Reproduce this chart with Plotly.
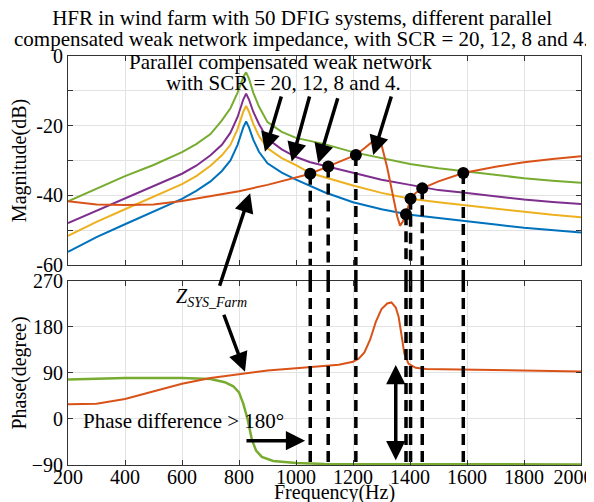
import plotly.graph_objects as go
from plotly.subplots import make_subplots

# magnitude of the four weak network impedances (SCR = 20, 12, 8, 4)
freq_net = [200, 300, 400, 500, 600, 650, 700, 740, 770, 795, 815, 825, 835, 850, 870, 900, 950, 1000,
            1050, 1100, 1200, 1300, 1400, 1500, 1600, 1700, 1800, 1900, 2000]
mag_green = [-41.7, -38, -34.5, -31.3, -27.6, -25.3, -22.4, -18.5, -15, -10.5, -6, -4.7, -6.5, -10.5, -14.5, -19,
             -21.8, -23.5, -24.5, -25.3, -27.6, -29.3, -31, -32.2, -33.2, -34.3, -35.1, -35.8, -36.4]
mag_purple = [-48, -44.5, -41, -37.5, -33.8, -31.5, -28.5, -25.5, -22, -17.5, -12.5, -10.8, -12.5, -16, -19.5, -23.8,
              -26.8, -29, -30.5, -31.5, -33.4, -35.5, -37, -38.5, -39.3, -40.3, -41.2, -41.9, -42.5]
mag_yellow = [-51.6, -47.6, -44, -40.3, -36.8, -34.5, -31.5, -28.5, -25.5, -21, -16, -14.3, -16, -19.5, -23, -26.5,
              -29.3, -31.3, -33.6, -34.8, -37.2, -39.3, -41, -42, -42.9, -43.9, -44.8, -45.6, -46.3]
mag_blue = [-56.2, -52, -48.3, -44.7, -41, -38.7, -36, -33, -30, -25.5, -20.5, -18.8, -20.5, -24, -27.5, -30.8,
            -33.5, -35.5, -37.4, -39.1, -42, -44, -45.6, -46.6, -47.4, -48.4, -49.3, -50, -50.7]

# wind farm impedance Z_SYS_Farm
freq_farm = [200, 300, 400, 500, 600, 700, 800, 900, 1000, 1050, 1113, 1150, 1210, 1240, 1265, 1285, 1300, 1320,
             1340, 1355, 1365, 1375, 1386, 1402, 1420, 1443, 1500, 1587, 1700, 1800, 1900, 2000]
mag_farm = [-41.7, -42.6, -42.8, -42.6, -41.6, -40.3, -38.8, -37, -35, -33.8, -31.7, -30.4, -28.4, -26.5, -24.8,
            -24, -25.5, -32, -40, -46, -48.7, -47.5, -45.4, -41, -39.3, -38, -36, -33.6, -31.8, -30.5, -29.6, -28.8]

freq_ph_farm = [200, 300, 400, 500, 600, 700, 800, 900, 1000, 1100, 1150, 1200, 1220, 1240, 1260, 1280, 1300, 1320,
                1335, 1350, 1360, 1370, 1380, 1395, 1420, 1457, 1600, 1800, 2000]
phase_farm = [29, 30, 39, 54, 69, 80, 88, 95, 99, 103, 106, 112, 118, 130, 155, 190, 215, 226, 228, 218, 200, 165,
              128, 108, 100, 98, 96.5, 95, 93]

freq_ph_net = [200, 300, 400, 600, 700, 750, 780, 800, 815, 830, 845, 860, 880, 920, 1000, 1100, 1300, 2000]
phase_net = [77, 79, 80, 80, 78, 72, 64, 52, 30, 0, -40, -62, -74, -82, -86, -88, -88.5, -89]

# intersection points
cross_freq = [1050, 1113, 1210, 1386, 1402, 1443, 1587]
cross_mag = [-33.8, -31.7, -28.4, -45.4, -41, -38, -33.6]

freq_ticks = [200, 400, 600, 800, 1000, 1200, 1400, 1600, 1800, 2000]
freq_labels = ['200', '400', '600', '800', '1000', '1200', '1400', '1600', '1800', '2000\u00a0\u00a0\u00a0']

blue = '#0072BD'
orange = '#D95319'
yellow = '#EDB120'
purple = '#7E2F8E'
green = '#77AC30'
font = 'Liberation Serif'

top_dom = [0.489, 1.0]
bot_dom = [0.0, 0.45]

fig = make_subplots(rows=2, cols=1, shared_xaxes=False)

fig.add_trace(go.Scatter(x=freq_net, y=mag_blue, mode='lines', line=dict(color=blue, width=2)), row=1, col=1)
fig.add_trace(go.Scatter(x=freq_net, y=mag_yellow, mode='lines', line=dict(color=yellow, width=2)), row=1, col=1)
fig.add_trace(go.Scatter(x=freq_net, y=mag_purple, mode='lines', line=dict(color=purple, width=2)), row=1, col=1)
fig.add_trace(go.Scatter(x=freq_net, y=mag_green, mode='lines', line=dict(color=green, width=2)), row=1, col=1)
fig.add_trace(go.Scatter(x=freq_farm, y=mag_farm, mode='lines', line=dict(color=orange, width=2)), row=1, col=1)

fig.add_trace(go.Scatter(x=freq_ph_net, y=phase_net, mode='lines', line=dict(color=green, width=2.5)), row=2, col=1)
fig.add_trace(go.Scatter(x=freq_ph_farm, y=phase_farm, mode='lines', line=dict(color=orange, width=2)), row=2, col=1)

# dashed lines from each crossing down to the phase plot
dash = dict(color='black', width=3.5, dash='11px,6px')
for f, m in zip(cross_freq, cross_mag):
    fig.add_trace(go.Scatter(x=[f, f], y=[m, -60], mode='lines', line=dash), row=1, col=1)
    fig.add_trace(go.Scatter(x=[f, f], y=[270, -90], mode='lines', line=dash), row=2, col=1)
    fig.add_shape(type='line', xref='x2', yref='paper', x0=f, x1=f, y0=bot_dom[1], y1=top_dom[0], line=dash)

fig.add_trace(go.Scatter(x=cross_freq, y=cross_mag, mode='markers',
                         marker=dict(color='black', size=12)), row=1, col=1)

axis_style = dict(range=[200, 2000], showgrid=True, gridcolor='#e3e3e3', showline=True, linecolor='#333',
                  mirror='ticks', ticks='inside', ticklen=5, tickcolor='#333', zeroline=False, automargin=False,
                  tickfont=dict(family=font, size=20, color='black'))

fig.update_xaxes(axis_style, tickvals=freq_ticks, row=1, col=1)
fig.update_xaxes(showticklabels=False, row=1, col=1)
fig.update_xaxes(axis_style, tickvals=freq_ticks, ticktext=freq_labels, ticklabeloverflow='allow',
                 ticklabelstandoff=-6, row=2, col=1)
fig.update_yaxes(axis_style, range=[-60, 0], tickvals=[0, -10, -20, -30, -40, -50, -60],
                 ticktext=['0', '', '-20', '', '-40', '', '-60'], row=1, col=1)
fig.update_yaxes(title=dict(text='Magnitude(dB)', font=dict(family=font, size=20, color='black'), standoff=10),
                 row=1, col=1)
fig.update_yaxes(axis_style, range=[-90, 270], dtick=90, row=2, col=1)
fig.update_yaxes(title=dict(text='Phase(degree)', font=dict(family=font, size=20, color='black'), standoff=10),
                 row=2, col=1)
fig.update_layout(xaxis=dict(domain=[0, 1]), yaxis=dict(domain=top_dom),
                  xaxis2=dict(domain=[0, 1]), yaxis2=dict(domain=bot_dom))

# x axis title, tucked right under the tick labels
fig.add_annotation(x=0.52, y=0, xref='paper', yref='paper', yanchor='middle', yshift=-27, showarrow=False,
                   text='Frequency(Hz)', font=dict(family=font, size=20, color='black'))

arrow = dict(showarrow=True, arrowhead=2, arrowsize=1.1, arrowwidth=3.5, arrowcolor='black', text='')

# arrows pointing to the weak network curves and Z_SYS_Farm
fig.add_annotation(arrow, x=891, y=-27.5, ax=950, ay=-11.2, axref='x', ayref='y', xref='x', yref='y')
fig.add_annotation(arrow, x=985, y=-30.3, ax=1049, ay=-11.2, axref='x', ayref='y', xref='x', yref='y')
fig.add_annotation(arrow, x=1078, y=-30.8, ax=1148, ay=-11.7, axref='x', ayref='y', xref='x', yref='y')
fig.add_annotation(arrow, x=1271, y=-28.4, ax=1336, ay=-11.2, axref='x', ayref='y', xref='x', yref='y')
fig.add_annotation(arrow, x=839, y=-39.4, ax=-31, ay=94, xref='x', yref='y')
fig.add_annotation(arrow, x=821, y=92.5, ax=745, ay=206.8, axref='x2', ayref='y2', xref='x2', yref='y2')
fig.add_annotation(arrow, x=1032, y=-42.5, ax=821, ay=-42.5, axref='x2', ayref='y2', xref='x2', yref='y2')
fig.add_annotation(arrow, x=1350, y=105.6, ax=1350, ay=-83.6, axref='x2', ayref='y2', xref='x2', yref='y2',
                   arrowside='end+start')

fig.add_annotation(x=947, y=-1.8, xref='x', yref='y', showarrow=False,
                   text='Parallel compensated weak network', font=dict(family=font, size=21, color='black'))
fig.add_annotation(x=957, y=-7.8, xref='x', yref='y', showarrow=False,
                   text='with SCR = 20, 12, 8 and 4.', font=dict(family=font, size=21, color='black'))
fig.add_annotation(x=705, y=236.7, xref='x2', yref='y2', showarrow=False,
                   text='<i>Z<sub>SYS_Farm</sub></i>', font=dict(family=font, size=20, color='black'))
fig.add_annotation(x=607, y=-3.4, xref='x2', yref='y2', showarrow=False,
                   text='Phase difference > 180°', font=dict(family=font, size=21, color='black'))

# second title line, kept close under the first one
fig.add_annotation(x=0.456, y=1, xref='paper', yref='paper', xanchor='center', yanchor='middle', yshift=17,
                   showarrow=False, text='compensated weak network impedance, with SCR = 20, 12, 8 and 4.',
                   font=dict(family=font, size=21, color='black'))

# the page keeps its default 8px body margin, so the figure is 8px smaller on each side
fig.update_layout(
    width=586, height=494,
    showlegend=False,
    font=dict(family=font, color='black'),
    plot_bgcolor='white', paper_bgcolor='white',
    margin=dict(l=60, r=13, t=48, b=37),
    title=dict(text='HFR in wind farm with 50 DFIG systems, different parallel',
               x=0.502, xanchor='center', y=0.98, yanchor='middle',
               font=dict(family=font, size=21, color='black')),
)

fig.write_html("out.html")
